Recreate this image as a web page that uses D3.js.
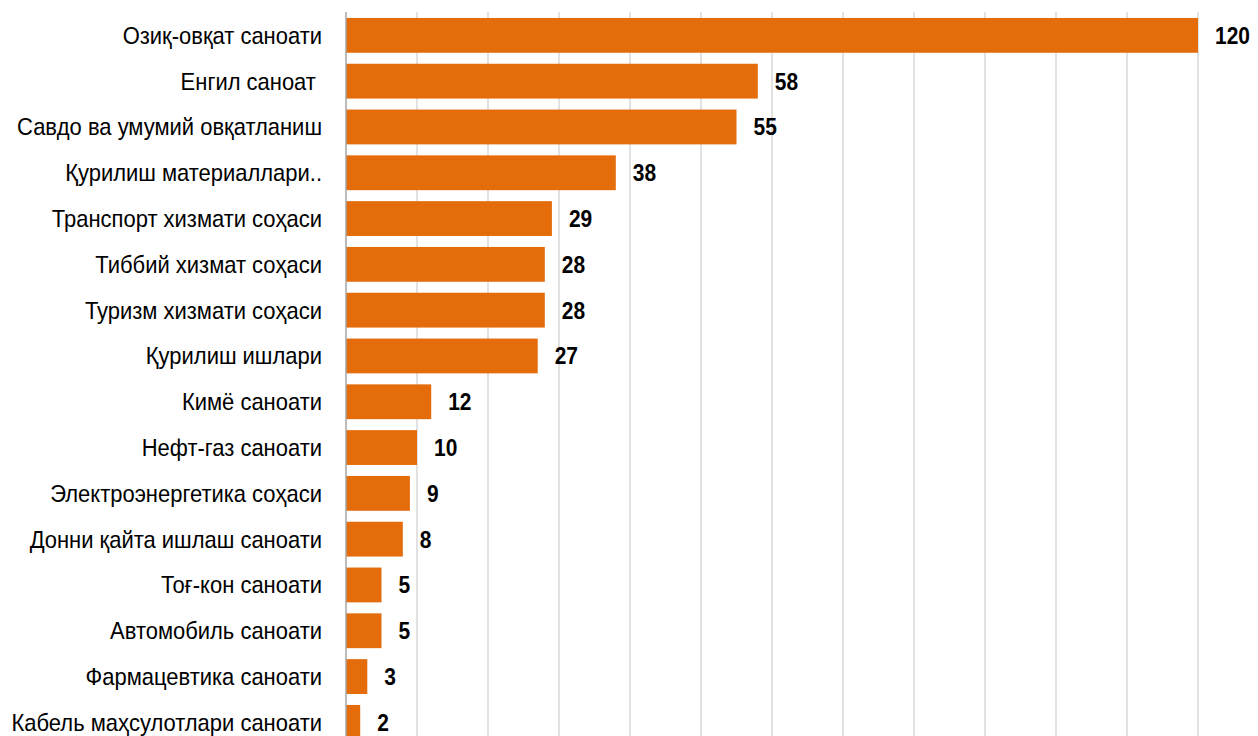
<!DOCTYPE html>
<html><head><meta charset="utf-8">
<script src="https://cdn.jsdelivr.net/npm/d3@7"></script>
<style>
html,body{margin:0;padding:0;background:#fff;overflow:hidden;}
text{white-space:pre;}
</style></head>
<body>
<svg id="chart" width="1258" height="736"></svg>
<script>
const categories = [
  "Озиқ-овқат саноати",
  "Енгил саноат ",
  "Савдо ва умумий овқатланиш",
  "Қурилиш материаллари..",
  "Транспорт хизмати соҳаси",
  "Тиббий хизмат соҳаси",
  "Туризм хизмати соҳаси",
  "Қурилиш ишлари",
  "Кимё саноати",
  "Нефт-газ саноати",
  "Электроэнергетика соҳаси",
  "Донни қайта ишлаш саноати",
  "Тоғ-кон саноати",
  "Автомобиль саноати",
  "Фармацевтика саноати",
  "Кабель маҳсулотлари саноати"
];
const values = [120, 58, 55, 38, 29, 28, 28, 27, 12, 10, 9, 8, 5, 5, 3, 2];
const gridTicks = [0,10,20,30,40,50,60,70,80,90,100,110,120];

(function(){
const svg = d3.select("#chart");
const mLeft = 346, mRight = 1198, mTop = 12;
const step = 45.8, pIn = 0.24, pOut = 0.13;
const n = categories.length;
const mBottom = mTop + step * (n - pIn + 2 * pOut);
const FONT = "'Liberation Sans', Arial, sans-serif";
const FS = 24;

const x = d3.scaleLinear().domain([0, 120]).range([mLeft, mRight]);
const y = d3.scaleBand().domain(categories).range([mTop, mBottom]).paddingInner(pIn).paddingOuter(pOut);

svg.append("g").selectAll("line").data(gridTicks.slice(1)).join("line")
  .attr("x1", d => x(d)).attr("x2", d => x(d))
  .attr("y1", mTop).attr("y2", 736)
  .attr("stroke", "#d9d9d9").attr("stroke-width", 1.5);

svg.append("g").selectAll("rect").data(values).join("rect")
  .attr("x", x(0)).attr("y", (d, i) => y(categories[i]))
  .attr("width", d => x(d) - x(0)).attr("height", y.bandwidth())
  .attr("fill", "#e46c0a");

svg.append("line").attr("x1", x(0)).attr("x2", x(0)).attr("y1", mTop).attr("y2", 736)
  .attr("stroke", "#a6a6a6").attr("stroke-width", 1.5);

// measure to emulate a narrow face
const probe = svg.append("text").attr("font-family", FONT).attr("font-size", FS)
  .text("Савдо ва умумий овқатланиш");
const sx = 305 / probe.node().getComputedTextLength();
probe.remove();
const probeB = svg.append("text").attr("font-family", FONT).attr("font-size", FS).attr("font-weight", "bold")
  .text("120");
const sxB = 35 / probeB.node().getComputedTextLength();
probeB.remove();

svg.append("g").selectAll("text").data(categories).join("text")
  .attr("transform", d => `translate(322,${y(d) + y.bandwidth() / 2}) scale(${sx},1)`)
  .attr("dy", "0.35em").attr("text-anchor", "end")
  .attr("font-family", FONT)
  .attr("font-size", FS).attr("fill", "#000")
  .text(d => d);

svg.append("g").selectAll("text").data(values).join("text")
  .attr("transform", (d, i) => `translate(${x(d) + 17},${y(categories[i]) + y.bandwidth() / 2}) scale(${sxB},1)`)
  .attr("dy", "0.35em").attr("text-anchor", "start")
  .attr("font-family", FONT)
  .attr("font-weight", "bold")
  .attr("font-size", FS).attr("fill", "#000")
  .text(d => d);
})();
</script>
</body></html>
